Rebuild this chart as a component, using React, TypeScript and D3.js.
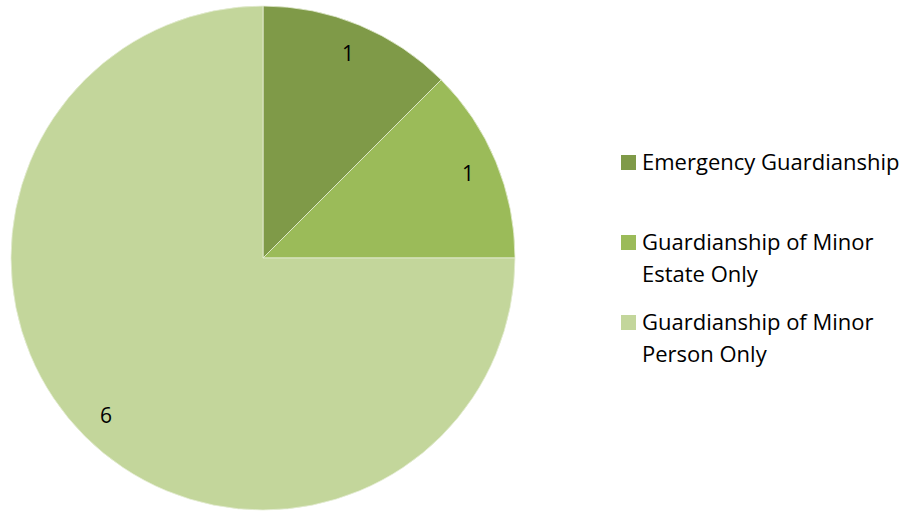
import React from "react";
import * as d3 from "d3";

const categories = ["Emergency Guardianship", "Guardianship of Minor Estate Only", "Guardianship of Minor Person Only"];
const legendLines = [["Emergency Guardianship"], ["Guardianship of Minor", "Estate Only"], ["Guardianship of Minor", "Person Only"]];
const values = [1, 1, 6];
const colors = ["#7F9A48", "#9BBB59", "#C3D69B"];

export default function App() {
  const W = 915, H = 512;
  const cx = 263, cy = 258, r = 252;
  const pie = d3.pie<number>().sort(null).value((d) => d);
  const arcs = pie(values);
  const arc = d3.arc<d3.PieArcDatum<number>>().innerRadius(0).outerRadius(r);
  const labelArc = d3.arc<d3.PieArcDatum<number>>().innerRadius(222).outerRadius(222);
  const font = "'Open Sans', sans-serif";
  const legendY = [170, 250, 330];
  return (
    <svg width={W} height={H} style={{ position: "absolute", left: 0, top: 0 }}>
      <rect width={W} height={H} fill="#fff" />
      <g transform={`translate(${cx},${cy})`}>
        {arcs.map((a, i) => (
          <path key={i} d={arc(a) || ""} fill={colors[i]} stroke="#E6EED6" strokeWidth={0.8} />
        ))}
        {arcs.map((a, i) => {
          const [x, y] = labelArc.centroid(a);
          return (
            <text key={i} x={x} y={y} textAnchor="middle" dominantBaseline="central" fontFamily={font} fontSize={21} fill="#000">
              {values[i]}
            </text>
          );
        })}
      </g>
      {categories.map((c, i) => (
        <g key={c}>
          <rect x={621} y={legendY[i] - 15} width={15} height={15} fill={colors[i]} />
          {legendLines[i].map((l, j) => (
            <text key={j} x={642} y={legendY[i] + j * 32} fontFamily={font} fontSize={22} fill="#000">
              {l}
            </text>
          ))}
        </g>
      ))}
    </svg>
  );
}
